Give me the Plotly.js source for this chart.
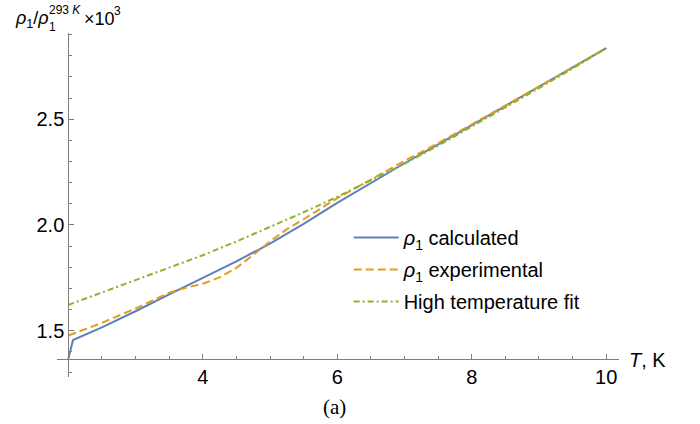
<!DOCTYPE html>
<html>
<head>
<meta charset="utf-8">
<script src="https://cdn.plot.ly/plotly-3.0.1.min.js"></script>
<style>html,body{margin:0;padding:0;background:#fff;}#chart{width:700px;height:424px;}</style>
</head>
<body>
<div id="chart"></div>
<script>
// Temperature (K) and normalised resistivity values (x 10^3)
const calcT = [2.0, 2.07, 2.5, 3.0, 3.5, 4.0, 4.5, 5.0, 5.5, 6.0, 6.5, 7.0, 7.5, 8.0, 8.5, 9.0, 9.5, 10.0];
const calcRho = [1.366, 1.456, 1.516, 1.592, 1.672, 1.75, 1.828, 1.912, 2.005, 2.105, 2.2, 2.292, 2.381, 2.472, 2.563, 2.654, 2.745, 2.836];

const expT = [2.0, 2.5, 3.0, 3.5, 3.8, 4.0, 4.25, 4.5, 4.75, 5.0, 5.25, 5.5, 6.0, 6.5, 7.0, 7.5, 8.0, 8.5, 9.0, 9.5, 10.0];
const expRho = [1.477, 1.537, 1.605, 1.68, 1.707, 1.722, 1.752, 1.797, 1.858, 1.922, 1.98, 2.027, 2.127, 2.215, 2.303, 2.387, 2.475, 2.564, 2.654, 2.745, 2.836];

const fitT = [2.0, 2.5, 3.0, 3.5, 4.0, 4.5, 5.0, 5.5, 6.0, 6.5, 7.0, 7.5, 8.0, 8.5, 9.0, 9.5, 10.0];
const fitRho = [1.622, 1.68, 1.738, 1.797, 1.857, 1.922, 1.99, 2.06, 2.133, 2.21, 2.29, 2.375, 2.465, 2.555, 2.647, 2.74, 2.836];

const seriesNames = ['<i>ρ</i><sub>1</sub> calculated', '<i>ρ</i><sub>1</sub> experimental', 'High temperature fit'];
const xTickVals = [4, 6, 8, 10];
const yTickVals = [1.5, 2.0, 2.5];
const yTickText = ['1.5', '2.0', '2.5'];

const xRange = [1.832, 10.19];
const yRange = [1.281, 2.908];
const xCross = 2.0;     // where the y axis sits
const yCross = 1.365;   // where the x axis sits

const traces = [
  {x: calcT, y: calcRho, name: seriesNames[0], mode: 'lines', legendgroup: 'a',
   line: {color: '#5E81B5', width: 2}},
  {x: expT, y: expRho, name: seriesNames[1], mode: 'lines', legendgroup: 'b',
   line: {color: '#E19C24', width: 2, dash: '8px,4px'}},
  {x: fitT, y: fitRho, name: seriesNames[2], mode: 'lines', legendgroup: 'c',
   line: {color: '#8FB032', width: 2, dash: '6px,3px,2px,3px'}}
];

// plot area in pixels: left 57, right 619, top 33, bottom 377
const M = {l: 57, r: 81, t: 33, b: 47};
const PW = 700 - M.l - M.r, PH = 424 - M.t - M.b;
const px = v => (v - M.l) / PW;
const py = v => (424 - M.b - v) / PH;

function ann(text, x, y, size, extra) {
  return Object.assign({xref: 'paper', yref: 'paper', x: px(x), y: py(y), xanchor: 'left', yanchor: 'middle',
    showarrow: false, text: text, font: {size: size, color: '#000'}}, extra || {});
}

const axisColor = '#7f7f7f';
const layout = {
  width: 700, height: 424,
  margin: M,
  paper_bgcolor: '#fff', plot_bgcolor: '#fff',
  font: {family: 'Liberation Sans, Arial, sans-serif', size: 20, color: '#000'},
  showlegend: true,
  legend: {x: 0.519, y: 0.462, xanchor: 'left', yanchor: 'top', bgcolor: 'rgba(0,0,0,0)',
           font: {size: 20, color: '#000'}, traceorder: 'grouped', tracegroupgap: 3, itemwidth: 45},
  xaxis: {range: xRange, anchor: 'free', position: (yCross - yRange[0]) / (yRange[1] - yRange[0]),
          showgrid: false, zeroline: false, showline: true, linecolor: axisColor, linewidth: 1,
          tickmode: 'array', tickvals: xTickVals, ticks: 'inside', ticklen: 5, tickcolor: axisColor, tickwidth: 1,
          minor: {dtick: 0.5, tick0: 0, ticks: 'inside', ticklen: 3, tickcolor: axisColor, tickwidth: 1, showgrid: false},
          tickfont: {size: 20, color: '#000'}},
  yaxis: {range: yRange, anchor: 'free', position: (xCross - xRange[0]) / (xRange[1] - xRange[0]),
          showgrid: false, zeroline: false, showline: true, linecolor: axisColor, linewidth: 1,
          tickmode: 'array', tickvals: yTickVals, ticktext: yTickText, ticks: 'inside', ticklen: 5, tickcolor: axisColor, tickwidth: 1,
          minor: {dtick: 0.1, tick0: 0, ticks: 'inside', ticklen: 3, tickcolor: axisColor, tickwidth: 1, showgrid: false},
          tickfont: {size: 20, color: '#000'}},
  annotations: [
    ann('<i>T</i>, K', 627, 360, 20),
    // y-axis title: ρ1/ρ1^(293 K) ×10^3 with stacked sub/superscript
    ann('<i>ρ</i><sub>1</sub>/<i>ρ</i>', 13, 20, 18),
    ann('1', 47, 27, 12),
    ann('293 <i>K</i>', 47, 10, 12),
    ann('×10', 82, 19, 18),
    ann('3', 112, 11, 12),
    ann('(a)', 334, 407, 21, {xanchor: 'center', font: {family: 'Liberation Serif, DejaVu Serif, serif', size: 21, color: '#000'}})
  ]
};

Plotly.newPlot('chart', traces, layout, {staticPlot: true, displayModeBar: false});
</script>
</body>
</html>
